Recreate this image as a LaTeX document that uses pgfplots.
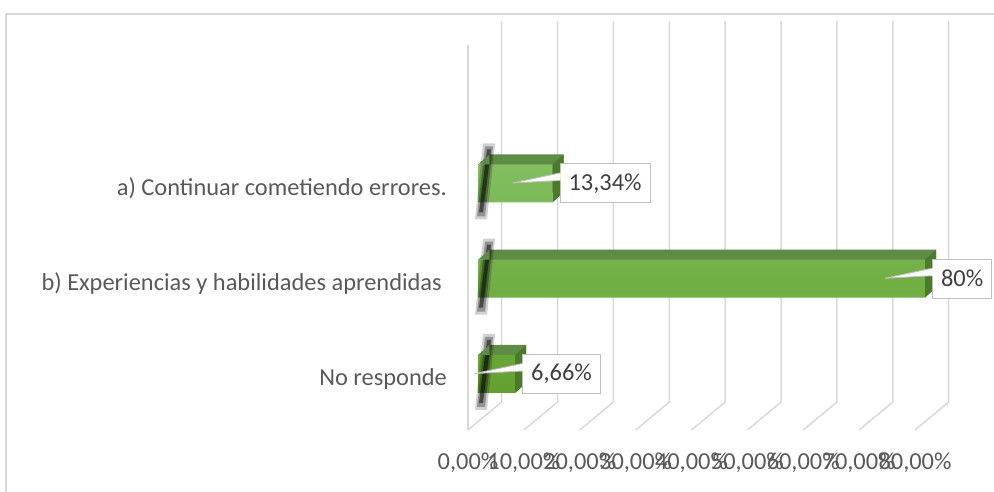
\documentclass[border=0pt]{standalone}
\usepackage{pgfplots}
\pgfplotsset{compat=1.18}
\usepackage{fontspec}
\setmainfont{Carlito}
\definecolor{gridc}{HTML}{D9D9D9}
\definecolor{txt}{HTML}{595959}
\definecolor{lbltxt}{HTML}{404040}
\definecolor{lblbd}{HTML}{BFBFBF}
\definecolor{gtop}{HTML}{82BE60}
\definecolor{gmid}{HTML}{71B045}
\definecolor{gbot}{HTML}{63A030}
\definecolor{gface}{HTML}{5E8B46}
\definecolor{gside}{HTML}{4B7A2B}
\pgfdeclareplotmark{sideface}{%
  \pgfsetfillcolor{gside}%
  \pgfpathmoveto{\pgfqpoint{0bp}{19bp}}%
  \pgfpathlineto{\pgfqpoint{11bp}{29bp}}%
  \pgfpathlineto{\pgfqpoint{11bp}{-9bp}}%
  \pgfpathlineto{\pgfqpoint{0bp}{-19bp}}%
  \pgfpathclose
  \pgfusepathqfill}
\pgfdeclareplotmark{leftcap}{%
  \pgfsetfillcolor{black}\pgfsetfillopacity{0.18}%
  \pgfpathmoveto{\pgfqpoint{-3bp}{-36bp}}%
  \pgfpathlineto{\pgfqpoint{9bp}{-36bp}}%
  \pgfpathlineto{\pgfqpoint{17bp}{40bp}}%
  \pgfpathlineto{\pgfqpoint{5bp}{40bp}}%
  \pgfpathclose
  \pgfusepathqfill
  \pgfsetfillopacity{0.3}%
  \pgfpathmoveto{\pgfqpoint{-1bp}{-33bp}}%
  \pgfpathlineto{\pgfqpoint{7bp}{-33bp}}%
  \pgfpathlineto{\pgfqpoint{15bp}{37bp}}%
  \pgfpathlineto{\pgfqpoint{7bp}{37bp}}%
  \pgfpathclose
  \pgfusepathqfill
  \pgfsetfillopacity{0.5}%
  \pgfpathmoveto{\pgfqpoint{1bp}{-29bp}}%
  \pgfpathlineto{\pgfqpoint{5bp}{-29bp}}%
  \pgfpathlineto{\pgfqpoint{13bp}{34bp}}%
  \pgfpathlineto{\pgfqpoint{9bp}{34bp}}%
  \pgfpathclose
  \pgfusepathqfill
  \pgfsetfillopacity{1}\pgfsetfillcolor{gface}%
  \pgfpathmoveto{\pgfqpoint{0bp}{19bp}}%
  \pgfpathlineto{\pgfqpoint{11.5bp}{19bp}}%
  \pgfpathlineto{\pgfqpoint{11.5bp}{29bp}}%
  \pgfpathclose
  \pgfusepathqfill}
\pgfdeclareplotmark{wedge}{%
  \pgfsetfillcolor{white}%
  \pgfpathmoveto{\pgfqpoint{-40bp}{0.5bp}}%
  \pgfpathlineto{\pgfqpoint{8bp}{10.5bp}}%
  \pgfpathlineto{\pgfqpoint{8bp}{3bp}}%
  \pgfpathclose
  \pgfusepathqfill
  \pgfsetstrokecolor{lblbd}\pgfsetlinewidth{0.9bp}%
  \pgfpathmoveto{\pgfqpoint{7bp}{10.5bp}}%
  \pgfpathlineto{\pgfqpoint{-40bp}{0.5bp}}%
  \pgfpathlineto{\pgfqpoint{7bp}{3bp}}%
  \pgfusepathqstroke}
\begin{document}
\begin{tikzpicture}[x=1bp,y=1bp]
\useasboundingbox (0,0) rectangle (994,492);
\draw[gridc, line width=1.5bp] (6,-2) -- (6,478) -- (996,478);
\foreach \k in {0,...,8} {\draw[gridc,line width=1.5bp] ({501.7+55.875*\k},471) -- ({501.7+55.875*\k},90) -- ({468+55.875*\k},62);}
\draw[gridc,line width=1.5bp] (468,447) -- (468,62);
\begin{axis}[
  at={(478bp,60.85bp)}, anchor=south west,
  scale only axis, width=447bp, height=409.575bp,
  xmin=0, xmax=80, ymin=-0.6, ymax=3.7,
  clip=false,
  axis line style={draw=none}, major tick length=0pt,
  xtick={0,10,20,30,40,50,60,70,80},
  xticklabels={{0,00\%},{10,00\%},{20,00\%},{30,00\%},{40,00\%},{50,00\%},{60,00\%},{70,00\%},{80,00\%}},
  ytick={0,1,2},
  yticklabels={{No responde},{b) Experiencias y habilidades aprendidas\hspace*{5bp}},{a) Continuar cometiendo errores.}},
  xticklabel style={anchor=north, inner sep=0pt, xshift=-10bp, yshift=-21.5bp, text=txt, font=\fontsize{24.4bp}{29bp}\selectfont},
  yticklabel style={anchor=east, inner sep=0pt, xshift=-31bp, yshift=-5bp, text=txt, font=\fontsize{24.4bp}{29bp}\selectfont},
]
\addplot[only marks, mark=leftcap] coordinates {(0,0) (0,1) (0,2)};
\addplot[xbar, bar width=38bp, bar shift=0pt, draw=none, fill=gface, xshift=11bp, yshift=10bp] coordinates {(13.34,2) (80,1) (6.66,0)};
\addplot[xbar, bar width=38bp, bar shift=0pt, draw=none, top color=gtop, bottom color=gbot, middle color=gmid] coordinates {(13.34,2) (80,1) (6.66,0)};
\addplot[only marks, mark=sideface] coordinates {(13.34,2) (80,1) (6.66,0)};
\addplot[draw=none, mark=none, point meta=explicit symbolic, nodes near coords,
  nodes near coords style={anchor=west, xshift=7bp, draw=lblbd, fill=white, text=lbltxt, line width=1bp,
    font=\fontsize{24.4bp}{29bp}\selectfont, inner xsep=8.5bp, inner ysep=0pt, minimum height=39bp}]
  coordinates {(13.34,2) [13,34\%] (80,1) [80\%] (6.66,0) [6,66\%]};
\addplot[only marks, mark=wedge] coordinates {(13.34,2) (80,1) (6.66,0)};
\end{axis}
\end{tikzpicture}
\end{document}
